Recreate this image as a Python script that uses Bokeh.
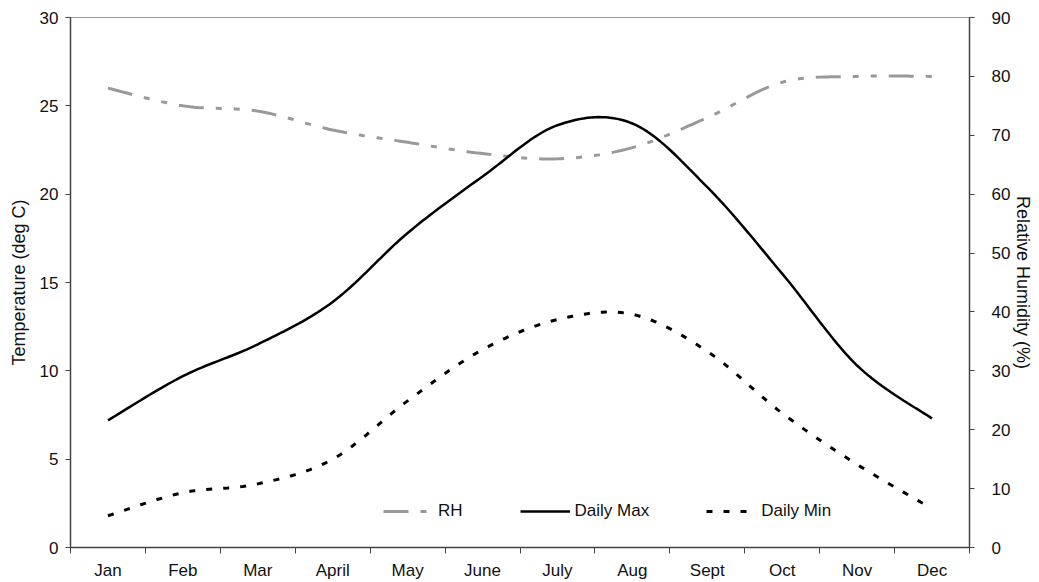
from bokeh.plotting import figure
from bokeh.models import Range1d, LinearAxis, FixedTicker, Legend, LegendItem
from bokeh.embed import file_html
from bokeh.resources import INLINE

# ---- data ----
months = ["Jan", "Feb", "Mar", "April", "May", "June", "July", "Aug", "Sept", "Oct", "Nov", "Dec"]
rh = [78.0, 75.0, 74.1, 70.9, 68.8, 66.9, 66.0, 67.9, 73.0, 79.0, 80.0, 80.0]
daily_max = [7.2, 9.7, 11.5, 13.9, 17.8, 21.0, 23.9, 24.0, 20.4, 15.5, 10.3, 7.3]
daily_min = [1.8, 3.1, 3.6, 5.0, 8.3, 11.2, 12.9, 13.2, 11.1, 7.6, 4.7, 2.2]
temp_ticks = [0, 5, 10, 15, 20, 25, 30]
rh_ticks = [0, 10, 20, 30, 40, 50, 60, 70, 80, 90]

x_pos = [i + 0.5 for i in range(len(months))]


def smooth(xs, ys, n=20):
    """Excel-style smoothed line (Catmull-Rom Bezier) through the data points."""
    px, py = [], []
    m = len(xs)
    for i in range(m - 1):
        x0, y0 = (xs[i - 1], ys[i - 1]) if i > 0 else (xs[i], ys[i])
        x1, y1 = xs[i], ys[i]
        x2, y2 = xs[i + 1], ys[i + 1]
        x3, y3 = (xs[i + 2], ys[i + 2]) if i + 2 < m else (xs[i + 1], ys[i + 1])
        c1x, c1y = x1 + (x2 - x0) / 6, y1 + (y2 - y0) / 6
        c2x, c2y = x2 - (x3 - x1) / 6, y2 - (y3 - y1) / 6
        for k in range(n):
            t = k / n
            a, b, c, d = (1 - t) ** 3, 3 * (1 - t) ** 2 * t, 3 * (1 - t) * t ** 2, t ** 3
            px.append(a * x1 + b * c1x + c * c2x + d * x2)
            py.append(a * y1 + b * c1y + c * c2y + d * y2)
    px.append(xs[-1])
    py.append(ys[-1])
    return px, py


FONT = "Liberation Sans"

p = figure(width=1039, height=582, output_backend="svg", toolbar_location=None,
           x_range=Range1d(0, 12), y_range=Range1d(0, 30),
           min_border_left=70, min_border_right=70, min_border_top=17, min_border_bottom=35)
p.extra_y_ranges = {"rh": Range1d(0, 90)}

p.xgrid.visible = False
p.ygrid.visible = False
p.outline_line_color = "#999999"
p.outline_line_width = 1
p.background_fill_color = "white"
p.border_fill_color = "white"

xaxis = p.below[0]
left = p.left[0]
right = LinearAxis(y_range_name="rh", ticker=FixedTicker(ticks=rh_ticks),
                   axis_label="Relative Humidity (%)")
p.add_layout(right, "right")

for ax in [xaxis, left, right]:
    ax.axis_line_color = "#444444"
    ax.axis_line_width = 1.5
    ax.major_tick_line_color = "#444444"
    ax.minor_tick_line_color = None
    ax.major_tick_out = 5
    ax.major_tick_in = 0
    ax.major_label_text_font = FONT
    ax.major_label_text_font_size = "17px"
    ax.major_label_text_color = "#111111"
    ax.axis_label_text_font = FONT
    ax.axis_label_text_font_size = "18px"
    ax.axis_label_text_font_style = "normal"
    ax.axis_label_text_color = "#111111"

# x axis: labels at category centres, tick marks at category boundaries
xaxis.ticker = FixedTicker(ticks=x_pos, minor_ticks=list(range(0, 13)))
xaxis.major_label_overrides = {x: m for x, m in zip(x_pos, months)}
xaxis.major_tick_line_color = None
xaxis.major_tick_out = 6
xaxis.minor_tick_line_color = "#444444"
xaxis.minor_tick_out = 6
xaxis.minor_tick_in = 0
xaxis.major_label_standoff = 7

# left axis
left.ticker = FixedTicker(ticks=temp_ticks)
left.axis_label = "Temperature (deg C)"
left.major_label_standoff = 7
left.axis_label_standoff = 8

right.major_label_standoff = 17
right.axis_label_standoff = 0

sx, sy = smooth(x_pos, rh)
r_rh = p.line(sx, sy, y_range_name="rh", line_color="#999999", line_width=3,
              line_dash="25 12 6 12 6 12")
sx, sy = smooth(x_pos, daily_max)
r_max = p.line(sx, sy, line_color="black", line_width=2.5)
sx, sy = smooth(x_pos, daily_min)
r_min = p.line(sx, sy, line_color="black", line_width=3, line_dash="6 11")

legend = Legend(items=[LegendItem(label="RH", renderers=[r_rh]),
                       LegendItem(label="Daily Max", renderers=[r_max]),
                       LegendItem(label="Daily Min", renderers=[r_min])],
                orientation="horizontal", location=(313, 26),
                glyph_width=50, glyph_height=20, label_standoff=5, spacing=57,
                padding=0, margin=0, border_line_color=None,
                background_fill_alpha=0, label_text_font=FONT,
                label_text_font_size="17px", label_text_color="#111111")
p.add_layout(legend, "center")

open("out.html", "w").write(file_html(p, INLINE))
